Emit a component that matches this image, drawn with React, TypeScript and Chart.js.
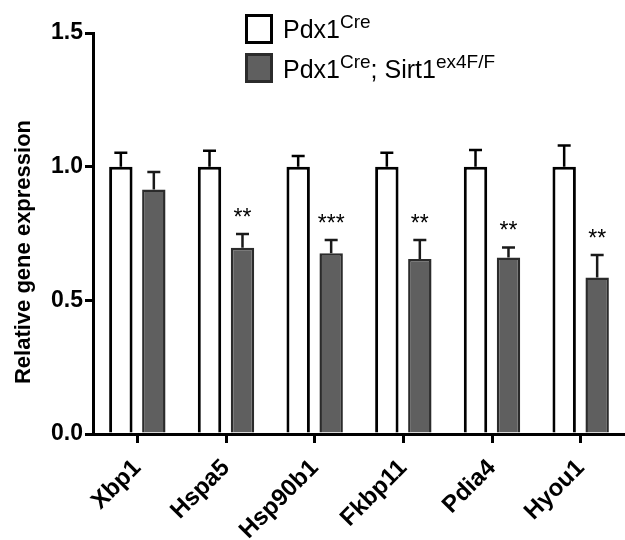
import React, { useEffect, useRef } from "react";
import { Chart, registerables } from "chart.js";

Chart.register(...registerables);

const FONT = "'Liberation Sans', Arial, Helvetica, sans-serif";

const categories = ["Xbp1", "Hspa5", "Hsp90b1", "Fkbp11", "Pdia4", "Hyou1"];
const controlValues = [1.0, 1.0, 1.0, 1.0, 1.0, 1.0];
const controlErrors = [0.052, 0.06, 0.04, 0.052, 0.062, 0.079];
const knockoutValues = [0.915, 0.697, 0.676, 0.655, 0.66, 0.585];
const knockoutErrors = [0.065, 0.051, 0.05, 0.071, 0.038, 0.085];
const significance = ["", "**", "***", "**", "**", "**"];
const yTickValues = [0, 0.5, 1.0, 1.5];
const yTitle = "Relative gene expression";
const legendLabels = [
  [{ text: "Pdx1" }, { text: "Cre", sup: true }],
  [{ text: "Pdx1" }, { text: "Cre", sup: true }, { text: "; Sirt1" }, { text: "ex4F/F", sup: true }],
];
const seriesFill = ["#ffffff", "#5f5f5f"];
const seriesBorder = ["#000000", "#2b2b2b"];

const errorPlugin = {
  id: "errorBars",
  afterDatasetsDraw(chart: any) {
    const ctx = chart.ctx;
    const yScale = chart.scales.y;
    const errs = [controlErrors, knockoutErrors];
    const vals = [controlValues, knockoutValues];
    ctx.save();
    for (let d = 0; d < 2; d++) {
      const meta = chart.getDatasetMeta(d);
      meta.data.forEach((el: any, i: number) => {
        const top = yScale.getPixelForValue(vals[d][i]);
        const cap = yScale.getPixelForValue(vals[d][i] + errs[d][i]);
        ctx.strokeStyle = d === 0 ? "#000" : "#1a1a1a";
        ctx.lineWidth = 2.5;
        ctx.beginPath();
        ctx.moveTo(el.x, top);
        ctx.lineTo(el.x, cap);
        ctx.moveTo(el.x - 6.5, cap);
        ctx.lineTo(el.x + 6.5, cap);
        ctx.stroke();
        if (d === 1 && significance[i]) {
          ctx.fillStyle = "#000";
          ctx.font = `23px ${FONT}`;
          ctx.textAlign = "center";
          ctx.textBaseline = "alphabetic";
          ctx.fillText(significance[i], el.x, cap - 9);
        }
      });
    }
    ctx.restore();
  },
  afterDraw(chart: any) {
    const ctx = chart.ctx;
    ctx.save();
    // y title
    ctx.translate(24, 252);
    ctx.rotate(-Math.PI / 2);
    ctx.font = `bold 22px ${FONT}`;
    ctx.fillStyle = "#000";
    ctx.textAlign = "center";
    ctx.textBaseline = "middle";
    ctx.fillText(yTitle, 0, 0);
    ctx.restore();

    // legend
    ctx.save();
    const boxTops = [14, 53];
    const baselines = [38, 78];
    for (let k = 0; k < 2; k++) {
      ctx.fillStyle = seriesFill[k];
      ctx.fillRect(245, boxTops[k], 28, 30);
      ctx.strokeStyle = seriesBorder[k];
      ctx.lineWidth = 3;
      ctx.strokeRect(246.5, boxTops[k] + 1.5, 25, 27);
      let x = 283;
      ctx.fillStyle = "#000";
      ctx.textAlign = "left";
      ctx.textBaseline = "alphabetic";
      for (const part of legendLabels[k] as any[]) {
        ctx.font = part.sup ? `19px ${FONT}` : `25px ${FONT}`;
        ctx.fillText(part.text, x, part.sup ? baselines[k] - 10 : baselines[k]);
        x += ctx.measureText(part.text).width;
      }
    }
    ctx.restore();
  },
};

export default function App() {
  const ref = useRef<HTMLCanvasElement>(null);
  useEffect(() => {
    const chart = new Chart(ref.current as HTMLCanvasElement, {
      type: "bar",
      data: {
        labels: categories,
        datasets: [
          {
            label: "Pdx1Cre",
            data: controlValues,
            backgroundColor: seriesFill[0],
            borderColor: seriesBorder[0],
            borderWidth: 3,
            categoryPercentage: 0.744,
            barPercentage: 0.71,
          },
          {
            label: "Pdx1Cre; Sirt1ex4F/F",
            data: knockoutValues,
            backgroundColor: seriesFill[1],
            borderColor: seriesBorder[1],
            borderWidth: 2.5,
            categoryPercentage: 0.744,
            barPercentage: 0.71,
          },
        ],
      },
      options: {
        responsive: false,
        animation: false,
        layout: { padding: { top: 33, right: 0, left: 0, bottom: 0 } },
        plugins: { legend: { display: false }, tooltip: { enabled: false }, title: { display: false } },
        scales: {
          x: {
            type: "category",
            offset: true,
            grid: {
              display: true,
              drawOnChartArea: false,
              drawTicks: true,
              tickLength: 9,
              lineWidth: 3,
              color: "#000",
              offset: false,
            },
            border: { display: true, color: "#000", width: 3 },
            ticks: {
              color: "#000",
              font: { family: FONT, size: 24, weight: "bold" },
              minRotation: 45,
              maxRotation: 45,
              autoSkip: false,
              padding: 11,
            },
            afterFit: (s: any) => {
              s.height = 106;
            },
          },
          y: {
            min: 0,
            max: 1.5,
            afterBuildTicks: (s: any) => {
              s.ticks = yTickValues.map((v) => ({ value: v }));
            },
            ticks: {
              color: "#000",
              font: { family: FONT, size: 23, weight: "bold" },
              callback: (v: any) => Number(v).toFixed(1),
              padding: 2,
            },
            grid: {
              display: true,
              drawOnChartArea: false,
              drawTicks: true,
              tickLength: 8,
              lineWidth: 3,
              color: "#000",
            },
            border: { display: true, color: "#000", width: 3 },
            afterFit: (s: any) => {
              s.width = 93;
            },
          },
        },
      },
      plugins: [errorPlugin],
    } as any);
    return () => chart.destroy();
  }, []);
  return (
    <div style={{ position: "fixed", left: 0, top: 0, width: 625, height: 540, background: "#fff" }}>
      <canvas ref={ref} width={625} height={540} style={{ display: "block" }} />
    </div>
  );
}
